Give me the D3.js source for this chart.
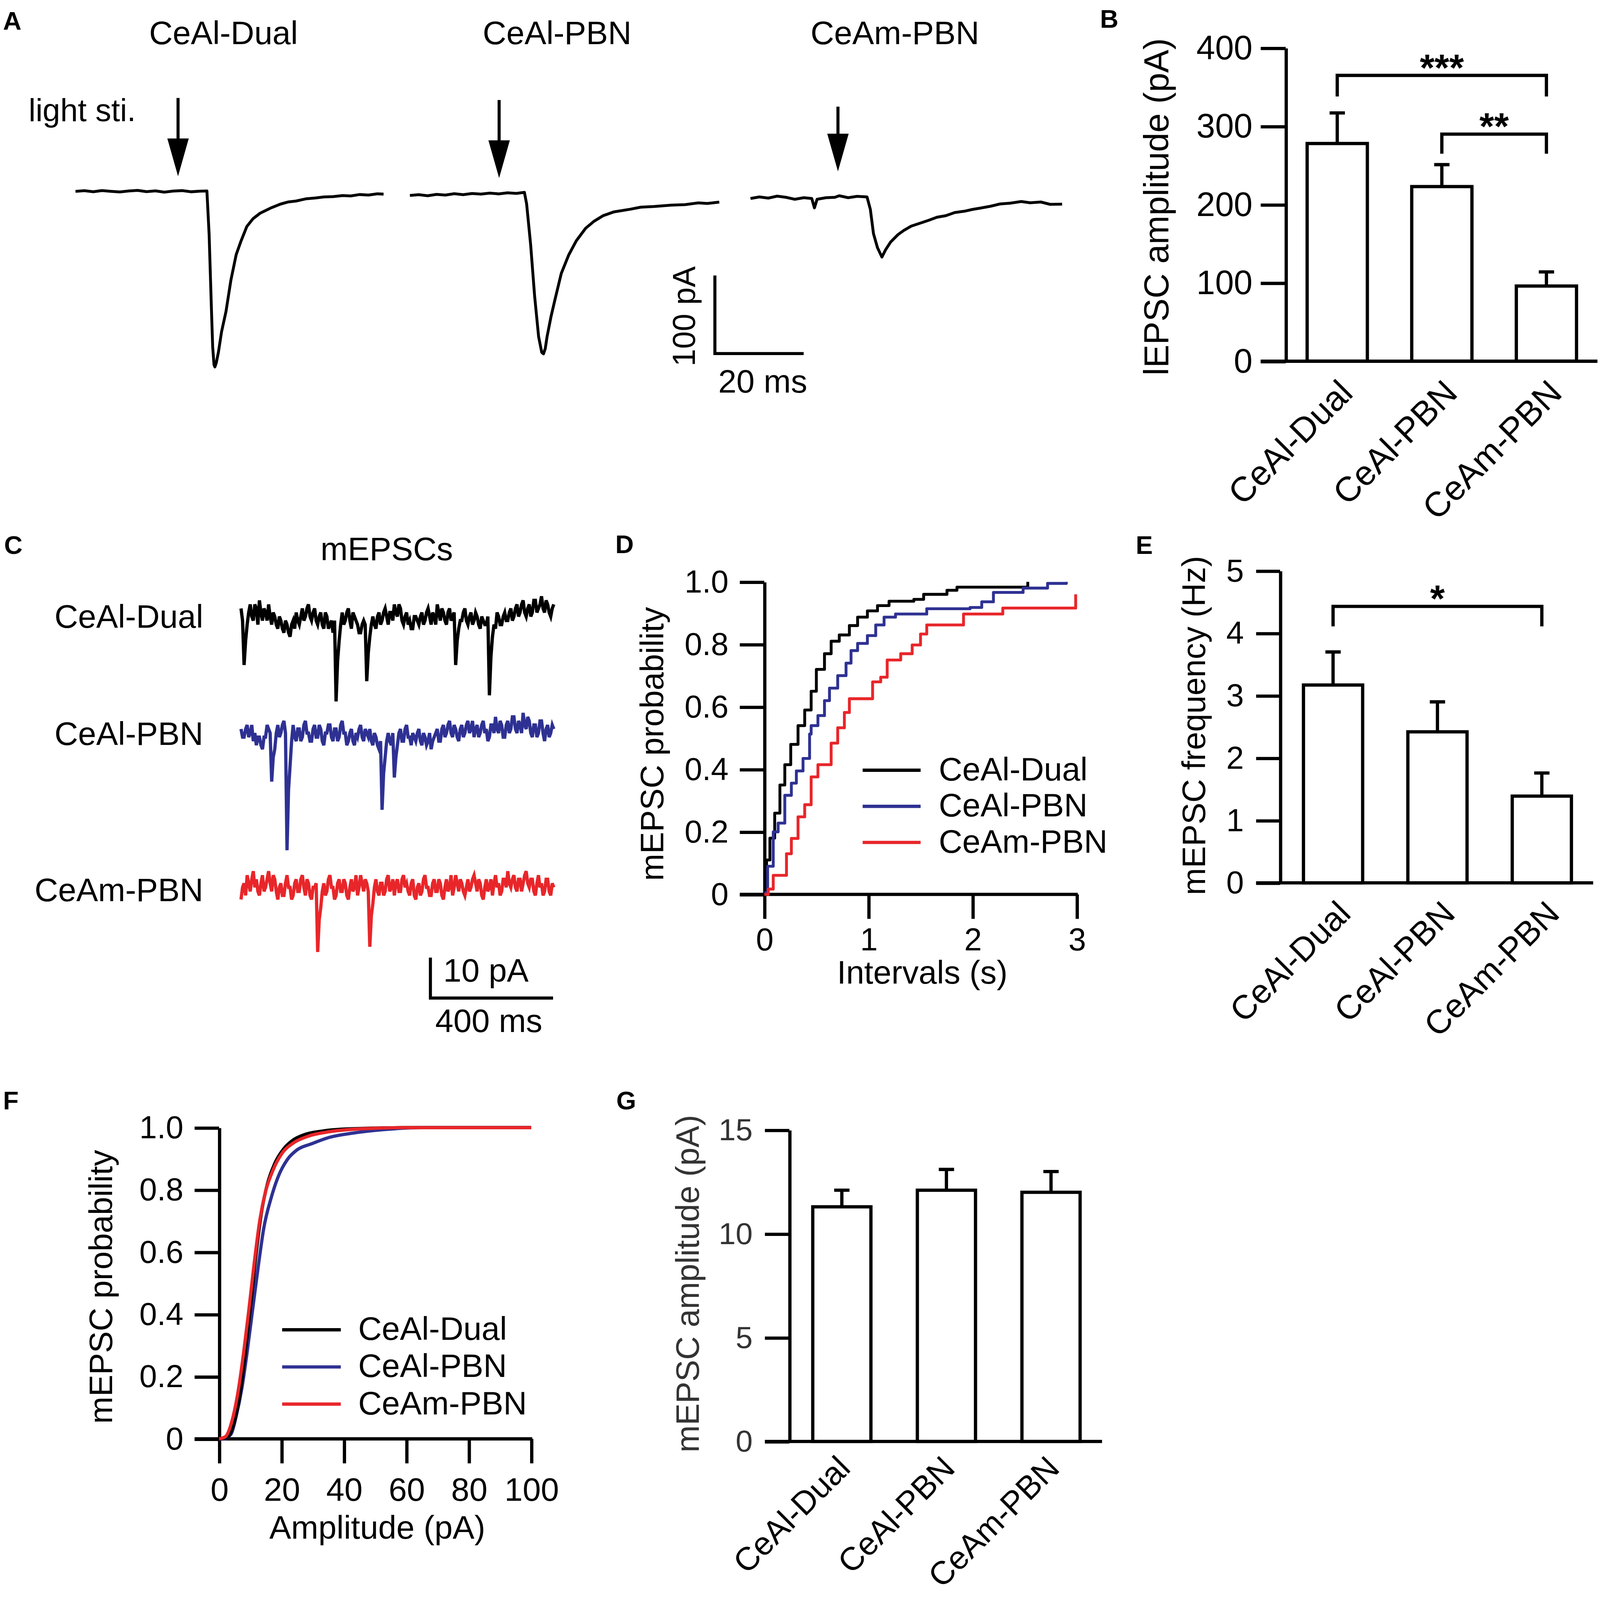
<!DOCTYPE html>
<html>
<head>
<meta charset="utf-8">
<script src="https://cdn.jsdelivr.net/npm/d3@7"></script>
<style>
  html, body { margin: 0; padding: 0; background: #fff; overflow: hidden; }
  svg { display: block; width: 100vw; height: 100vh; }
</style>
</head>
<body>
<div id="fig"></div>
<script>
// ---------- data ----------
const groups = ["CeAl-Dual", "CeAl-PBN", "CeAm-PBN"];
const groupColors = ["#000000", "#2e3192", "#e8262a"];

// A: light-evoked EPSCs, [time ms, current pA]
const epscDual = [[0,0],[2,0.8],[4,-0.5],[6,1],[8,0],[10,-0.8],[12,0.5],[14,1.2],[16,-0.4],[18,0.6],
  [20,-1],[22,0.3],[24,0.9],[26,-0.6],[28,0.2],[29.6,0.5],[30.1,-55],[30.6,-147],[30.9,-199],[31.2,-222],
  [31.4,-225],[31.7,-220],[32.2,-206],[32.9,-180],[33.9,-154],[35.0,-114],[36.2,-81],[37.2,-65],[38.6,-45],
  [40.0,-35],[41.6,-28],[43.9,-21.6],[46.2,-16.3],[48,-13.5],[49.7,-12.4],[52,-9.5],[54,-8.5],[56,-7.2],
  [58,-6.8],[60.2,-5.4],[62,-5.9],[64,-4.1],[66,-4.8],[68,-3.2],[69.4,-3.6]];
const epscPbn = [[0,-2],[2,-1],[4,-2.4],[6,-0.6],[8,-1.5],[10,0.2],[12,-1],[14,0.5],[16,-0.3],[18,1],
  [20,0],[22,1.4],[24,0.6],[25.8,2],[26.3,-13],[27.2,-65],[28.1,-131],[29.0,-183],[29.7,-203],[30.1,-205],
  [30.5,-198],[30.9,-183],[31.8,-157],[32.7,-135],[34.1,-102],[35.8,-78],[37.5,-60],[39.6,-44],[41.5,-35],
  [43.5,-28],[46,-23],[49.7,-19.6],[52,-17],[55,-16.2],[58.9,-14.4],[62,-13.8],[65,-11.5],[67,-12.3],[69.7,-10.5]];
const epscCeam = [[0,-2],[2,0],[4,-1.5],[6,1],[8,-0.5],[10,-3],[12,-1],[13.8,-2],[14.4,-14],[15,-3],
  [17,-1],[19,-0.5],[20,1.5],[22,-1],[24,0.8],[26.25,0],[27.0,-16],[27.7,-47],[28.6,-65],[29.6,-77],
  [30.4,-68],[31.6,-57.5],[33.2,-48.4],[34.5,-43],[36.2,-37.4],[38,-34],[40.1,-30],[42,-26],[44,-24],
  [46,-20],[48.2,-18.3],[50,-16],[51.7,-14.4],[54,-12],[56.2,-9],[58.5,-8],[61,-5.9],[63,-7.5],
  [65.4,-6.5],[67.5,-9.5],[70.2,-9.2]];
const stimTimes = [23.1, 20.1, 19.7]; // ms

// B: light-evoked EPSC amplitude (pA)
const lepscMean = [278, 223, 96];
const lepscSem = [39, 28, 18];
const lepscSig = [
  { a: 0, b: 2, top: 365, leg: 338, label: "***" },
  { a: 1, b: 2, top: 290, leg: 265, label: "**" }
];
const lepscTicks = [0, 100, 200, 300, 400];

// C: mEPSC sweeps, one sample every 5 ms (pA)
const sweepDt = 5;
const sweepDual = [
  2, -1, -12, -6, -2, 1, 3, 0, -1, 3, 2, -2, 4, 1, -1, 2, 1, -1, 3, 0,
  -2, 1, 0, -2, -3, 0, -1, -3, -4, -1, -2, -4, -5, -2, -1, -3, 1, -1, -2, 0,
  2, -1, 0, 2, 3, 0, -1, 1, 2, -1, -2, 0, 1, -2, -3, 1, 0, -3, -2, -1,
  -4, -1, -21, -11, -6, -2, 1, -2, -1, 1, 2, -1, -3, 1, 0, -1, -2, -4, -4, -2,
  -1, -2, -16, -9, -5, -2, 0, -2, -3, 0, 1, -2, -1, 1, 2, 0, -2, 1, 1, -1,
  3, 1, 0, 3, 2, -1, -2, 0, 1, -2, -1, -3, -3, 0, 0, -1, -2, 0, 1, -2,
  -1, 1, 2, 0, -2, 1, 0, -2, 3, 1, -1, 2, 1, -1, -2, 1, 2, -1, 0, 1,
  -12, -6, -3, -1, -1, 1, 2, -1, -2, 0, 1, -2, -1, 1, 0, -2, -3, 0, -1, -2,
  -2, 0, -19.5, -10, -5, -2, -3, 1, 0, -2, -2, 0, 1, -1, -1, 1, 2, -1, 0, 2,
  3, 0, 1, 3, 4, 1, 0, 2, 3, 0, 1, 4, 4, 1, 2, 3, 5, 2, 1, 4,
  3, 1, 0, 2, 3];
const sweepPbn = [
  1, -1, -1, 1, 2, -1, 0, 2, -2, 0, -3, -1, -1, -3, -4, -1, -1, 2, 1, 0,
  -12, -6, -4, 0, 2, -1, 0, 2, 3, 0, -29, -14, -8, -2, 2, -1, -2, 1, 1, -2,
  -1, 2, 3, 0, 0, -2, -2, 1, 2, -1, -1, 2, 1, -2, -3, 0, 0, 2, 2, -1,
  -2, 1, 1, -2, -1, 2, 3, 0, 0, -3, -2, 0, 1, -2, -3, 0, -1, 1, 2, -1,
  -2, 1, 0, -1, 1, -2, -3, 0, -1, -3, -4, -2, -19, -10, -6, -2, 0, -2, -3, 0,
  -11, -6, -3, 0, 1, -2, -2, 1, 2, -1, -1, -3, 0, -1, -2, 0, 1, -2, -3, 0,
  -1, -3, -2, 0, -4, -2, -1, 0, 1, -2, -2, 1, 2, -1, 0, 2, 3, 0, -1, 2,
  1, -1, -2, 1, 2, -1, 0, 2, 3, 0, 1, 3, -1, 1, 2, -1, 0, 2, 3, 0,
  1, -2, -1, 2, 2, 0, 4, 1, 0, 3, 2, -1, -1, 2, 3, 0, 1, 4, 4, 1,
  0, 3, 2, 0, 5, 2, 1, 4, 3, 0, -1, 2, 2, -1, 0, 3, 3, 0, -2, 1,
  2, -1, 0, 2, 1];
const sweepCeam = [
  -3, 0, 1, -2, 3, 1, -1, 2, 4, 0, 2, -1, -2, 1, 3, -1, 0, 2, 4, 1,
  -1, 3, 2, -1, -3, 0, 1, -2, -2, 1, 3, 0, 0, -3, -2, 1, 2, -1, -1, 2,
  3, 0, -2, 2, 1, -2, -3, 0, 0, 1, -16, -8, -5, -1, 1, -2, -1, 2, 3, 0,
  0, -3, -2, 1, 2, -1, -1, 2, 1, -2, -3, 0, 2, -1, 0, 3, -2, 0, 3, 1,
  -1, 2, 1, -1, -14.7, -7, -4, 0, 2, -1, -2, 1, 1, -2, -1, 2, 3, -1, 0, 2,
  -2, 1, 2, -1, -1, 2, 3, 0, 1, -1, -2, 1, 2, -2, -3, 0, 1, -2, -1, 2,
  3, 0, 0, -2, -2, 1, 2, -1, -1, 2, 1, -2, -3, 0, 2, -1, 0, 3, -2, 0,
  3, 1, -1, 2, 1, -1, -2, 0, 2, -1, 0, 2, 3, 1, -1, 2, 1, -2, -3, 0,
  2, -1, 0, 2, -2, 1, 3, 0, 1, -2, -1, 2, 2, 0, 4, 1, 0, 2, 3, 0,
  -1, 2, 2, -1, 1, 3, 4, 1, 0, 2, 2, -1, -2, 1, 3, 0, 1, -2, -1, 2,
  2, -1, -2, 1, 0];

// D: cumulative inter-event interval, [s, probability]
const ieiDual = [[0,0],[0.022,0.11],[0.054,0.18],[0.10,0.26],[0.15,0.35],[0.197,0.415],[0.254,0.48],
  [0.324,0.54],[0.388,0.59],[0.45,0.65],[0.50,0.72],[0.578,0.77],[0.642,0.81],[0.72,0.83],[0.817,0.86],
  [0.896,0.887],[0.99,0.907],[1.087,0.924],[1.198,0.938],[1.436,0.944],[1.53,0.96],[1.754,0.973],
  [1.85,0.983],[2.45,0.983],[2.53,1.0]];
const ieiPbn = [[0,0.005],[0.032,0.09],[0.086,0.20],[0.133,0.228],[0.197,0.317],[0.26,0.356],[0.308,0.395],
  [0.372,0.435],[0.435,0.513],[0.45,0.54],[0.515,0.572],[0.578,0.62],[0.626,0.66],[0.705,0.70],
  [0.785,0.74],[0.833,0.78],[0.896,0.803],[0.99,0.828],[1.07,0.862],[1.15,0.887],[1.26,0.897],
  [1.56,0.914],[1.976,0.918],[2.088,0.936],[2.2,0.966],[2.485,0.98],[2.72,0.995],[2.9,1.0]];
const ieiCeam = [[0,0],[0.038,0.017],[0.086,0.061],[0.18,0.061],[0.213,0.13],[0.26,0.179],[0.324,0.248],
  [0.388,0.287],[0.45,0.376],[0.515,0.415],[0.594,0.415],[0.642,0.484],[0.705,0.533],[0.769,0.582],
  [0.817,0.626],[0.976,0.626],[1.04,0.68],[1.118,0.695],[1.18,0.75],[1.31,0.77],[1.42,0.798],[1.5,0.833],
  [1.56,0.862],[1.85,0.862],[1.913,0.897],[2.29,0.916],[2.96,0.916],[2.99,0.96]];
const ieiXTicks = [0, 1, 2, 3];
const probTicks = [0, 0.2, 0.4, 0.6, 0.8, 1.0];

// E: mEPSC frequency (Hz)
const freqMean = [3.17, 2.42, 1.39];
const freqSem = [0.53, 0.48, 0.37];
const freqSig = [{ a: 0, b: 2, top: 4.43, leg: 4.11, label: "*" }];
const freqTicks = [0, 1, 2, 3, 4, 5];

// F: cumulative amplitude, [pA, probability]
const ampDual = [[0,0],[2.6,0.005],[4.9,0.054],[6.7,0.143],[8.45,0.28],[10.2,0.44],[12,0.607],[13.7,0.735],
  [15.5,0.82],[17.8,0.884],[20.8,0.933],[23.7,0.96],[27.2,0.977],[33.1,0.989],[41.3,0.996],[58.9,1.0],[100,1.0]];
const ampPbn = [[0,0],[1.4,0],[3.8,0.015],[5.5,0.074],[7.3,0.163],[9.0,0.28],[10.8,0.42],[12.6,0.558],
  [14.3,0.676],[16.7,0.775],[19.0,0.844],[21.9,0.898],[24.9,0.928],[29.6,0.948],[35.4,0.969],[42.5,0.982],
  [53,0.994],[64.8,1.0],[100,1.0]];
const ampCeam = [[0,0],[2.0,0.007],[4.3,0.064],[6.1,0.153],[7.9,0.28],[9.6,0.42],[11.4,0.577],[13.1,0.706],
  [14.9,0.795],[17.3,0.864],[20.2,0.918],[23.7,0.95],[28.4,0.972],[35.4,0.987],[44.8,0.996],[58.9,1.0],[100,1.0]];
const ampXTicks = [0, 20, 40, 60, 80, 100];

// G: mEPSC amplitude (pA)
const ampMean = [11.3, 12.1, 12.0];
const ampSem = [0.8, 1.0, 1.0];
const ampTicks = [0, 5, 10, 15];

// ---------- canvas ----------
const W = 1568, H = 1552.7;
const FONT = "'Liberation Sans', Arial, Helvetica, sans-serif";
const LW = 3.2;

const svg = d3.select("#fig").append("svg")
  .attr("viewBox", [0, 0, W, H].join(" "))
  .attr("preserveAspectRatio", "xMinYMin meet")
  .attr("xmlns", "http://www.w3.org/2000/svg");

svg.append("rect").attr("width", W).attr("height", H).attr("fill", "#fff");

function label(x, y, str, size, opts) {
  opts = opts || {};
  return svg.append("text")
    .attr("x", x).attr("y", y)
    .attr("font-family", FONT)
    .attr("font-size", size)
    .attr("font-weight", opts.bold ? "bold" : null)
    .attr("text-anchor", opts.anchor || "start")
    .attr("fill", opts.color || "#000")
    .text(str);
}

function vlabel(x, y, str, size, color) {
  return svg.append("text")
    .attr("transform", `translate(${x},${y}) rotate(-90)`)
    .attr("font-family", FONT)
    .attr("font-size", size)
    .attr("text-anchor", "middle")
    .attr("fill", color || "#000")
    .text(str);
}

function styleAxis(g, size, color) {
  g.attr("font-family", FONT).attr("font-size", size).attr("color", color || "#000");
  g.selectAll("line").attr("stroke", "#000").attr("stroke-width", LW);
  g.selectAll(".domain").attr("stroke", "#000").attr("stroke-width", LW);
}

// panel letters
[["A", 3, 29], ["B", 1078, 27], ["C", 4, 543], ["D", 603, 542], ["E", 1113, 543], ["F", 3, 1087], ["G", 604, 1087]]
  .forEach(d => label(d[1], d[2], d[0], 25, { bold: true }));

// ---------- A ----------
const tA = d3.scaleLinear().domain([0, 20]).range([0, 87]);
const iA = d3.scaleLinear().domain([0, -100]).range([0, 76.5]);
const aOrigins = [[74, 187.5], [401.7, 190], [735.5, 193]];
const aArrowTop = [96, 98, 104.5];
const aArrowTip = [172.7, 174.5, 168];
const aTitleX = [219, 546, 877];
const lineA = d3.line().x(d => tA(d[0])).y(d => iA(d[1]));

[epscDual, epscPbn, epscCeam].forEach((tr, k) => {
  const g = svg.append("g").attr("transform", `translate(${aOrigins[k][0]},${aOrigins[k][1]})`);
  g.append("path").datum(tr).attr("d", lineA)
    .attr("fill", "none").attr("stroke", "#000").attr("stroke-width", 2.8)
    .attr("stroke-linejoin", "round");
  // stimulus arrow
  const ax = aOrigins[k][0] + tA(stimTimes[k]);
  const headLen = 37, headHalf = 10.5;
  svg.append("line").attr("x1", ax).attr("x2", ax)
    .attr("y1", aArrowTop[k]).attr("y2", aArrowTip[k] - headLen + 2)
    .attr("stroke", "#000").attr("stroke-width", 3);
  svg.append("path")
    .attr("d", `M${ax - headHalf},${aArrowTip[k] - headLen}L${ax + headHalf},${aArrowTip[k] - headLen}L${ax},${aArrowTip[k]}Z`)
    .attr("fill", "#000");
  label(aTitleX[k], 43.3, groups[k], 32, { anchor: "middle" });
});
label(28, 118.5, "light sti.", 31);

// scale bar A
{
  const sx = 700.6, sy = 346.5;
  svg.append("path")
    .attr("d", `M${sx},${sy - iA(-100)}V${sy}H${sx + tA(20)}`)
    .attr("fill", "none").attr("stroke", "#000").attr("stroke-width", 3);
  vlabel(681, 310, "100 pA", 31);
  label(747.5, 384.7, "20 ms", 32, { anchor: "middle" });
}

// ---------- bar panels ----------
function barPanel(cfg, means, sems, ticks, sig) {
  const y = d3.scaleLinear().domain(cfg.domain).range([cfg.y0, cfg.y1]);
  const x = d3.scalePoint().domain(groups).range([cfg.c0, cfg.c1]);

  const gy = svg.append("g").attr("transform", `translate(${cfg.axisX},0)`)
    .call(d3.axisLeft(y).tickValues(ticks).tickSize(cfg.tick).tickPadding(cfg.pad).tickSizeOuter(0)
      .tickFormat(d3.format("d")));
  styleAxis(gy, cfg.tickFont, cfg.textColor);

  groups.forEach((gname, i) => {
    const cx = x(gname);
    const top = y(means[i]), errTop = y(means[i] + sems[i]);
    svg.append("line").attr("x1", cx).attr("x2", cx).attr("y1", top).attr("y2", errTop)
      .attr("stroke", "#000").attr("stroke-width", LW);
    svg.append("line").attr("x1", cx - cfg.cap).attr("x2", cx + cfg.cap).attr("y1", errTop).attr("y2", errTop)
      .attr("stroke", "#000").attr("stroke-width", LW);
    svg.append("rect")
      .attr("x", cx - cfg.barW / 2).attr("y", top)
      .attr("width", cfg.barW).attr("height", y(0) - top)
      .attr("fill", "#fff").attr("stroke", "#000").attr("stroke-width", LW);
    svg.append("text")
      .attr("transform", `translate(${cx + cfg.labDx},${cfg.y0 + cfg.labDy}) rotate(-45)`)
      .attr("font-family", FONT).attr("font-size", cfg.catFont)
      .attr("text-anchor", "end").attr("fill", "#000")
      .text(gname);
  });

  svg.append("line")
    .attr("x1", cfg.axisX - cfg.tick).attr("x2", cfg.xEnd)
    .attr("y1", y(0)).attr("y2", y(0))
    .attr("stroke", "#000").attr("stroke-width", LW);

  (sig || []).forEach(s => {
    const xa = x(groups[s.a]), xb = x(groups[s.b]);
    svg.append("path")
      .attr("d", `M${xa},${y(s.leg)}V${y(s.top)}H${xb}V${y(s.leg)}`)
      .attr("fill", "none").attr("stroke", "#000").attr("stroke-width", LW);
    label((xa + xb) / 2, y(s.top) + 5, s.label, 37, { anchor: "middle", bold: true });
  });

  vlabel(cfg.ylabX, cfg.ylabY, cfg.ylab, cfg.ylabFont, cfg.textColor);
}

// B
barPanel({
  domain: [0, 400], y0: 354, y1: 47, axisX: 1260, c0: 1310.5, c1: 1515.5, barW: 59, cap: 7.5,
  xEnd: 1565.5, tick: 24.5, pad: 8, tickFont: 33, catFont: 34, labDx: 17, labDy: 33,
  ylab: "lEPSC amplitude (pA)", ylabX: 1145, ylabY: 202.7, ylabFont: 34
}, lepscMean, lepscSem, lepscTicks, lepscSig);

// E
barPanel({
  domain: [0, 5], y0: 865.2, y1: 559.4, axisX: 1254.5, c0: 1306.4, c1: 1511, barW: 58, cap: 7.5,
  xEnd: 1561.3, tick: 23.5, pad: 12, tickFont: 31, catFont: 33, labDx: 19, labDy: 32,
  ylab: "mEPSC frequency (Hz)", ylabX: 1181, ylabY: 711, ylabFont: 32
}, freqMean, freqSem, freqTicks, freqSig);

// G
barPanel({
  domain: [0, 15], y0: 1412.6, y1: 1107.4, axisX: 773.6, c0: 825, c1: 1030, barW: 57, cap: 7.5,
  xEnd: 1080, tick: 24, pad: 12, tickFont: 30, catFont: 32, labDx: 10, labDy: 28,
  ylab: "mEPSC amplitude (pA)", ylabX: 685, ylabY: 1258, ylabFont: 32, textColor: "#333"
}, ampMean, ampSem, ampTicks, null);

// ---------- C ----------
{
  const xs = d3.scaleLinear().domain([0, 400]).range([0, 120.2]);
  const ys = d3.scaleLinear().domain([0, -10]).range([0, 39.6]);
  const x0 = 236.2;
  const baselines = [604.2, 718.4, 869.6];
  const rowBase = [615.3, 730.2, 883];
  const sweepLine = d3.line().x((d, i) => xs(i * sweepDt)).y(d => ys(d));
  [sweepDual, sweepPbn, sweepCeam].forEach((sw, k) => {
    svg.append("g").attr("transform", `translate(${x0},${baselines[k]})`)
      .append("path").datum(sw).attr("d", sweepLine)
      .attr("fill", "none").attr("stroke", groupColors[k]).attr("stroke-width", 3.2)
      .attr("stroke-linejoin", "miter");
    label(199.2, rowBase[k], groups[k], 32, { anchor: "end" });
  });
  label(379, 549, "mEPSCs", 32, { anchor: "middle" });
  const bx = 421.8, by = 978.1;
  svg.append("path")
    .attr("d", `M${bx},${by - ys(-10)}V${by}H${bx + xs(400)}`)
    .attr("fill", "none").attr("stroke", "#000").attr("stroke-width", 3);
  label(434.4, 962, "10 pA", 32);
  label(479, 1011.3, "400 ms", 32, { anchor: "middle" });
}

// ---------- cumulative panels ----------
function cdfPanel(cfg, series, curve) {
  const x = d3.scaleLinear().domain(cfg.xDomain).range([cfg.x0, cfg.x1]);
  const y = d3.scaleLinear().domain([0, 1]).range([cfg.y0, cfg.y1]);

  const gx = svg.append("g").attr("transform", `translate(0,${cfg.y0})`)
    .call(d3.axisBottom(x).tickValues(cfg.xTicks).tickSize(cfg.tick).tickPadding(cfg.xpad).tickSizeOuter(0)
      .tickFormat(d3.format("d")));
  styleAxis(gx, cfg.xTickFont);
  gx.select(".domain").remove();

  const gy = svg.append("g").attr("transform", `translate(${cfg.x0},0)`)
    .call(d3.axisLeft(y).tickValues(probTicks).tickSize(cfg.tick).tickPadding(cfg.ypad).tickSizeOuter(0)
      .tickFormat(d => d === 0 ? "0" : d3.format(".1f")(d)));
  styleAxis(gy, cfg.yTickFont);

  svg.append("line")
    .attr("x1", cfg.x0 - cfg.tick).attr("x2", cfg.x1 + 1)
    .attr("y1", cfg.y0).attr("y2", cfg.y0)
    .attr("stroke", "#000").attr("stroke-width", LW);

  const line = d3.line().x(d => x(d[0])).y(d => y(d[1])).curve(curve);
  cfg.order.forEach(k => {
    svg.append("path").datum(series[k]).attr("d", line)
      .attr("fill", "none").attr("stroke", groupColors[k]).attr("stroke-width", cfg.lw)
      .attr("stroke-linejoin", "round");
  });

  groups.forEach((gname, k) => {
    const ly = cfg.legY + k * cfg.legStep;
    svg.append("line").attr("x1", cfg.legX).attr("x2", cfg.legX + cfg.legLen)
      .attr("y1", ly).attr("y2", ly)
      .attr("stroke", groupColors[k]).attr("stroke-width", 3.2);
    label(cfg.legX + cfg.legLen + cfg.legGap, ly + 10, gname, 32);
  });

  vlabel(cfg.ylabX, cfg.ylabY, "mEPSC probability", 32);
  label(cfg.xlabX, cfg.xlabY, cfg.xlab, 32, { anchor: "middle" });
}

// D
cdfPanel({
  xDomain: [0, 3], x0: 749, x1: 1055.2, y0: 876.5, y1: 570.2, tick: 24, xpad: 9, ypad: 11,
  xTicks: ieiXTicks, xTickFont: 31, yTickFont: 31, lw: 2.8, order: [0, 1, 2],
  legX: 845.4, legLen: 56.8, legGap: 17.8, legY: 754.8, legStep: 35.4,
  ylabX: 650, ylabY: 729, xlab: "Intervals (s)", xlabX: 903.8, xlabY: 964
}, [ieiDual, ieiPbn, ieiCeam], d3.curveStepAfter);

// F
cdfPanel({
  xDomain: [0, 100], x0: 214.7, x1: 520.6, y0: 1410.1, y1: 1105.1, tick: 24, xpad: 14, ypad: 11,
  xTicks: ampXTicks, xTickFont: 32, yTickFont: 31, lw: 3.2, order: [1, 0, 2],
  legX: 276.5, legLen: 57.5, legGap: 17, legY: 1303.2, legStep: 36.4,
  ylabX: 110, ylabY: 1261, xlab: "Amplitude (pA)", xlabX: 369.8, xlabY: 1508
}, [ampDual, ampPbn, ampCeam], d3.curveMonotoneX);
</script>
</body>
</html>
